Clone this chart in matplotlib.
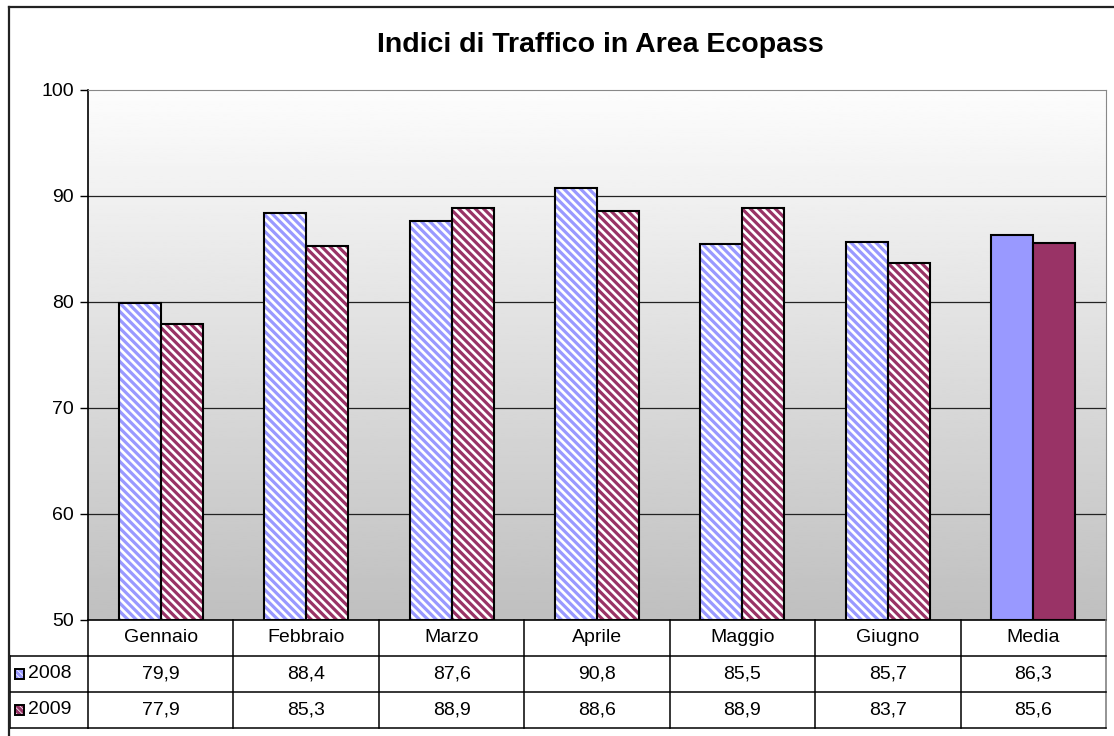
import numpy as np
import matplotlib
matplotlib.use('Agg')
import matplotlib.pyplot as plt
from matplotlib.patches import Rectangle
from matplotlib.lines import Line2D
import matplotlib.transforms as mtransforms

# ---- data ----
categories = ['Gennaio', 'Febbraio', 'Marzo', 'Aprile', 'Maggio', 'Giugno', 'Media']
series_names = ['2008', '2009']
values_2008 = [79.9, 88.4, 87.6, 90.8, 85.5, 85.7, 86.3]
values_2009 = [77.9, 85.3, 88.9, 88.6, 88.9, 83.7, 85.6]
y_ticks = [50, 60, 70, 80, 90, 100]
title = 'Indici di Traffico in Area Ecopass'

plt.rcParams['font.family'] = ['Liberation Sans', 'DejaVu Sans']
plt.rcParams['hatch.linewidth'] = 2.3

W, H = 1114, 736
fig = plt.figure(figsize=(W / 100, H / 100), dpi=100)


def fx(px):
    return px / W


def fy(py):
    return 1 - py / H


col_blue = '#9999FF'
col_red = '#993366'
HATCH = '\\' * 4

# ---- main axes ----
ax = fig.add_axes([fx(88), fy(620), (1106 - 88) / W, (620 - 90) / H])
n = len(categories)
x = np.arange(n)
ax.set_xlim(-0.5, n - 0.5)
ax.set_ylim(y_ticks[0], y_ticks[-1])

grad = np.linspace(0.99, 0.75, 256)[:, None]
ax.imshow(grad, extent=[-0.5, n - 0.5, y_ticks[0], y_ticks[-1]], aspect='auto',
          cmap='gray', vmin=0, vmax=1, zorder=0, origin='upper')

for t in y_ticks[1:-1]:
    ax.axhline(t, color='#222222', lw=0.9, zorder=1)

bw = 0.289
for vals, off, col in [(values_2008, -bw / 2, col_blue), (values_2009, bw / 2, col_red)]:
    for i, v in enumerate(vals):
        h = v - y_ticks[0]
        if categories[i] == 'Media':
            ax.bar(x[i] + off, h, bw, bottom=y_ticks[0], color=col,
                   edgecolor='black', lw=1.5, zorder=3)
        else:
            ax.bar(x[i] + off, h, bw, bottom=y_ticks[0], facecolor='white',
                   edgecolor=col, hatch=HATCH, lw=0, zorder=2)
            ax.bar(x[i] + off, h, bw, bottom=y_ticks[0], fill=False,
                   edgecolor='black', lw=1.5, zorder=3)

fs = 14
ax.set_yticks(y_ticks)
ax.set_yticklabels([str(t) for t in y_ticks])
ax.tick_params(axis='y', labelsize=fs, length=6, width=1, direction='out', pad=4)
ax.set_xticks([])
ax.spines['left'].set_color('black')
ax.spines['bottom'].set_color('black')
ax.spines['left'].set_linewidth(1.2)
ax.spines['bottom'].set_linewidth(1.2)
ax.spines['top'].set_color('#888888')
ax.spines['right'].set_color('#888888')

# ---- data table ----
tax = fig.add_axes([fx(88), fy(728), (1106 - 88) / W, (728 - 620) / H])
tax.set_xlim(-0.5, n - 0.5)
tax.set_ylim(3, 0)
tax.axis('off')
lc = 'black'
for i in range(n + 1):
    tax.add_line(Line2D([i - 0.5, i - 0.5], [0, 3], color=lc if i < n else '#777777',
                        lw=1.1, clip_on=False))
for r in (1, 2, 3):
    tax.add_line(Line2D([-0.5, n - 0.5], [r, r], color=lc, lw=1.1, clip_on=False))

tr = mtransforms.blended_transform_factory(fig.transFigure, tax.transData)
for r in (1, 2, 3):
    tax.add_line(Line2D([fx(10), fx(88)], [r, r], color=lc, lw=1.1, clip_on=False,
                        transform=tr))
tax.add_line(Line2D([fx(10), fx(10)], [1, 3], color=lc, lw=1.1, clip_on=False, transform=tr))

for i, c in enumerate(categories):
    tax.text(x[i], 0.5, c, ha='center', va='center', fontsize=fs)
for r, vals in enumerate([values_2008, values_2009]):
    for i, v in enumerate(vals):
        tax.text(x[i], r + 1.5, f'{v:.1f}'.replace('.', ','), ha='center',
                 va='center', fontsize=fs)

for r, (name, col) in enumerate(zip(series_names, [col_blue, col_red])):
    yc = r + 1.5
    kx0, kw = fx(15), 9 / W
    kh = 0.27
    solid = Rectangle((kx0, yc - kh / 2), kw, kh, transform=tr, facecolor='white',
                      edgecolor=col, hatch='\\' * 6, lw=0, clip_on=False)
    border = Rectangle((kx0, yc - kh / 2), kw, kh, transform=tr, fill=False,
                       edgecolor='black', lw=1.4, clip_on=False)
    tax.add_patch(solid)
    tax.add_patch(border)
    tax.text(fx(28), yc, name, transform=tr, ha='left', va='center', fontsize=fs)

# ---- outer chart border ----
fig.add_artist(Line2D([fx(9), fx(W)], [fy(7), fy(7)], color='#222222', lw=1.6,
                      transform=fig.transFigure))
fig.add_artist(Line2D([fx(9), fx(9)], [fy(7), fy(H)], color='#222222', lw=1.6,
                      transform=fig.transFigure))

# ---- title ----
fig.text(fx(600), fy(45), title, ha='center', va='center', fontsize=20.5,
         fontweight='bold')

fig.savefig('out.png', dpi=100)
